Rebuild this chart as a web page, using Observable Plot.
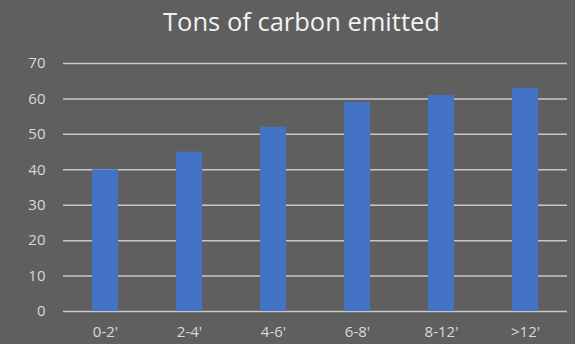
<!DOCTYPE html>
<html>
<head>
<meta charset="utf-8">
<script src="https://cdn.jsdelivr.net/npm/d3@7"></script>
<script src="https://cdn.jsdelivr.net/npm/@observablehq/plot@0.6"></script>
<style>
  html, body { margin: 0; padding: 0; }
  #wrap { width: 575px; height: 344px; background: #5f5f5f; overflow: hidden; }
  #title { height: 50px; line-height: 42px; text-align: center; color: #f2f2f2;
           font-family: "Open Sans", sans-serif; font-size: 25.5px; padding-left: 28px; box-sizing: border-box; }
</style>
</head>
<body>
<div id="wrap">
  <div id="title">Tons of carbon emitted</div>
  <div id="chart"></div>
</div>
<script>
const categories = ["0-2'", "2-4'", "4-6'", "6-8'", "8-12'", ">12'"];
const values = [40, 45, 52, 59, 61, 63];
const yTicks = [0, 10, 20, 30, 40, 50, 60, 70];

const data = categories.map((c, i) => ({category: c, value: values[i]}));

const chart = Plot.plot({
  width: 575,
  height: 294,
  marginLeft: 63,
  marginRight: 8,
  marginTop: 13,
  marginBottom: 33,
  style: { background: "transparent", color: "#d9d9d9", fontFamily: "Open Sans, sans-serif", fontSize: "15px" },
  x: { domain: categories, paddingInner: 0.69, paddingOuter: 0.345, label: null },
  y: { domain: [0, 70], label: null },
  marks: [
    Plot.ruleY(yTicks, { stroke: "#c8c8c8", strokeWidth: 1.5 }),
    Plot.barY(data, { x: "category", y: "value", fill: "#4472c4" }),
    Plot.axisX({ tickSize: 0, tickPadding: 15, label: null, fontSize: 15 }),
    Plot.axisY({ ticks: yTicks, tickSize: 0, tickPadding: 18, label: null, fontSize: 15 })
  ]
});
document.getElementById("chart").appendChild(chart);
</script>
</body>
</html>
